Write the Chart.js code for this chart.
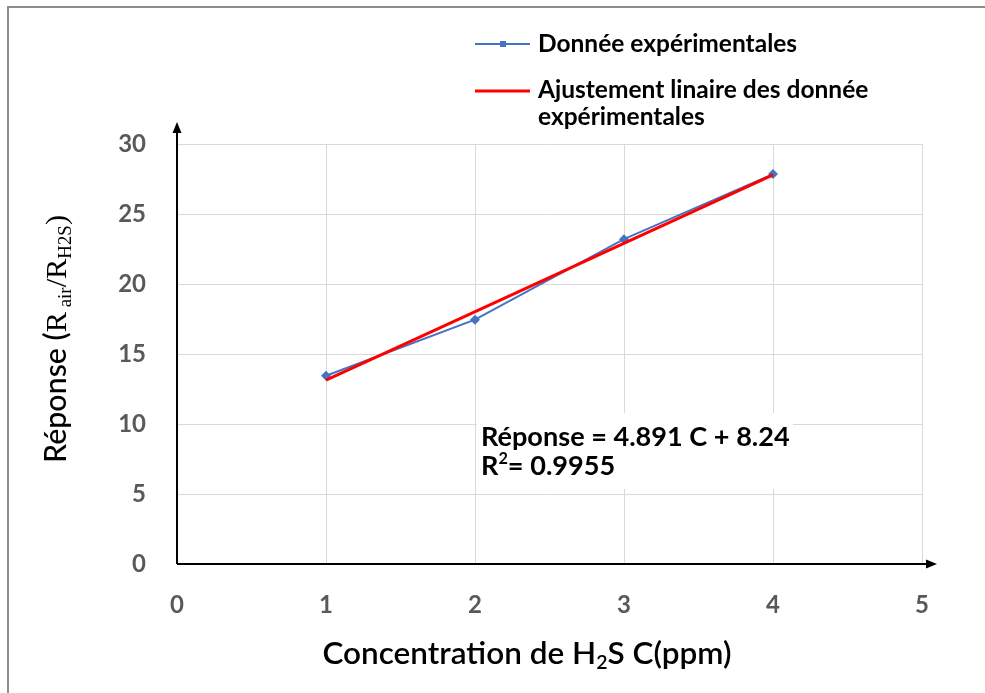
<!DOCTYPE html>
<html>
<head>
<meta charset="utf-8">
<script src="https://cdn.jsdelivr.net/npm/chart.js@4"></script>
<style>
  html, body { margin: 0; padding: 0; background: #fff; }
  #wrap { position: relative; width: 985px; height: 693px; }
  #frame { position: absolute; left: 7px; top: 6px; right: 0; bottom: 0;
           border-top: 2px solid #8c8c8c; border-left: 2px solid #8c8c8c; pointer-events: none; }
</style>
</head>
<body>
<div id="wrap">
  <canvas id="chart" width="985" height="693"></canvas>
  <div id="frame"></div>
</div>
<script>
// valeurs
var concentrations = [1, 2, 3, 4];
var responses = [13.45, 17.45, 23.2, 27.85];
var fitConc = [1, 4];
var fitResp = [13.13, 27.80];
var xMin = 0, xMax = 5, xStep = 1;
var yMin = 0, yMax = 30, yStep = 5;

var legendLabels = ['Donnée expérimentales', ['Ajustement linaire des donnée', 'expérimentales']];
var equationText = 'Réponse = 4.891 C + 8.24';
var r2Text = '0.9955';

var BLUE = '#4472C4';
var RED = '#FF0000';

function fitFont(ctx, text, weight, family, width) {
    ctx.font = weight + ' 100px ' + family;
    var w = ctx.measureText(text).width;
    return weight + ' ' + (100 * width / w).toFixed(1) + 'px ' + family;
}

var decorPlugin = {
    id: 'decor',
    beforeDatasetsDraw: function(chart) {
        var ctx = chart.ctx;
        // boite blanche de l'equation
        ctx.save();
        ctx.fillStyle = '#fff';
        ctx.fillRect(477, 413, 316, 76);
        ctx.restore();
    },
    afterDraw: function(chart) {
        var ctx = chart.ctx;
        var x0 = chart.scales.x.getPixelForValue(0);
        var y0 = chart.scales.y.getPixelForValue(0);
        ctx.save();

        // axes avec fleches
        ctx.strokeStyle = '#000';
        ctx.fillStyle = '#000';
        ctx.lineWidth = 2;
        ctx.beginPath();
        ctx.moveTo(x0, y0);
        ctx.lineTo(x0, 130);
        ctx.moveTo(x0, y0);
        ctx.lineTo(930, y0);
        ctx.stroke();
        ctx.beginPath();
        ctx.moveTo(x0, 122);
        ctx.lineTo(x0 - 4.5, 133);
        ctx.lineTo(x0 + 4.5, 133);
        ctx.closePath();
        ctx.fill();
        ctx.beginPath();
        ctx.moveTo(937, y0);
        ctx.lineTo(926, y0 - 4.5);
        ctx.lineTo(926, y0 + 4.5);
        ctx.closePath();
        ctx.fill();

        // legende
        ctx.lineWidth = 2;
        ctx.strokeStyle = BLUE;
        ctx.beginPath();
        ctx.moveTo(475, 44);
        ctx.lineTo(530, 44);
        ctx.stroke();
        ctx.fillStyle = BLUE;
        ctx.fillRect(500, 41, 6, 6);
        ctx.lineWidth = 3;
        ctx.strokeStyle = RED;
        ctx.beginPath();
        ctx.moveTo(475, 91);
        ctx.lineTo(530, 91);
        ctx.stroke();

        ctx.fillStyle = '#000';
        ctx.textAlign = 'left';
        ctx.textBaseline = 'middle';
        ctx.font = fitFont(ctx, legendLabels[0], 'bold', 'Lato', 259);
        ctx.fillText(legendLabels[0], 538, 44);
        ctx.fillText(legendLabels[1][0], 538, 90);
        ctx.fillText(legendLabels[1][1], 538, 117);

        // equation
        ctx.font = fitFont(ctx, equationText, 'bold', 'Lato', 309);
        ctx.fillText(equationText, 481, 437);
        var eqFont = ctx.font;
        ctx.fillText('R', 481, 466);
        var wR = ctx.measureText('R').width;
        ctx.font = eqFont.replace(/[\d.]+px/, function(m) { return (parseFloat(m) * 0.6).toFixed(1) + 'px'; });
        ctx.fillText('2', 481 + wR, 459);
        var w2 = ctx.measureText('2').width;
        ctx.font = eqFont;
        ctx.fillText('= ' + r2Text, 481 + wR + w2, 466);

        // titre axe x
        var xParts = [
            { t: 'Concentration de H', sub: false },
            { t: '2', sub: true },
            { t: 'S C(ppm)', sub: false }
        ];
        drawParts(ctx, xParts, 527, 656, 'Lato', 24, 409, '600');

        // titre axe y
        ctx.save();
        ctx.translate(58, 339);
        ctx.rotate(-Math.PI / 2);
        var yParts = [
            { t: 'Réponse (', sub: false, fam: 'Lato' },
            { t: 'R', sub: false, fam: 'Liberation Serif' },
            { t: ' air', sub: true, fam: 'Liberation Serif' },
            { t: '/R', sub: false, fam: 'Liberation Serif' },
            { t: 'H2S', sub: true, fam: 'Liberation Serif' },
            { t: ')', sub: false, fam: 'Liberation Serif' }
        ];
        drawParts(ctx, yParts, 0, 0, 'Lato', 25, 248, '500');
        ctx.restore();

        ctx.restore();
    }
};

function drawParts(ctx, parts, cx, cy, family, size, targetW, weight) {
    var total = 0;
    var i, p, f, s;
    for (i = 0; i < parts.length; i++) {
        p = parts[i];
        f = p.fam || family;
        s = p.sub ? size * 0.62 : size;
        ctx.font = weight + ' ' + s + 'px ' + f;
        p.w = ctx.measureText(p.t).width;
        total += p.w;
    }
    var k = targetW / total;
    var x = cx - targetW / 2;
    ctx.textAlign = 'left';
    ctx.textBaseline = 'alphabetic';
    ctx.fillStyle = '#000';
    for (i = 0; i < parts.length; i++) {
        p = parts[i];
        f = p.fam || family;
        s = (p.sub ? size * 0.62 : size) * k;
        ctx.font = weight + ' ' + s.toFixed(1) + 'px ' + f;
        ctx.fillText(p.t, x, cy + 8 + (p.sub ? 5 : 0));
        x += p.w * k;
    }
}

var ctx = document.getElementById('chart').getContext('2d');
var chart = new Chart(ctx, {
    type: 'scatter',
    data: {
        datasets: [
            {
                label: 'Ajustement linaire des donnée expérimentales',
                data: fitConc.map(function(c, i) { return { x: c, y: fitResp[i] }; }),
                showLine: true,
                borderColor: RED,
                backgroundColor: RED,
                borderWidth: 3,
                pointRadius: 0,
                order: 0
            },
            {
                label: 'Donnée expérimentales',
                data: concentrations.map(function(c, i) { return { x: c, y: responses[i] }; }),
                showLine: true,
                borderColor: BLUE,
                backgroundColor: BLUE,
                borderWidth: 2,
                pointStyle: 'rectRot',
                pointRadius: 5,
                pointBorderWidth: 0,
                order: 1
            }
        ]
    },
    options: {
        responsive: false,
        animation: false,
        layout: { padding: { top: 144, right: 63, left: 0, bottom: 0 } },
        plugins: {
            legend: { display: false },
            tooltip: { enabled: false }
        },
        scales: {
            x: {
                type: 'linear',
                min: xMin,
                max: xMax,
                ticks: {
                    stepSize: xStep,
                    padding: 27,
                    color: '#595959',
                    font: { family: 'Lato', size: 24, weight: 'bold' }
                },
                grid: { color: '#d9d9d9', lineWidth: 1, drawTicks: false },
                border: { display: false },
                afterFit: function(scale) { scale.height = 129; }
            },
            y: {
                min: yMin,
                max: yMax,
                ticks: {
                    stepSize: yStep,
                    padding: 31,
                    color: '#595959',
                    font: { family: 'Lato', size: 24, weight: 'bold' }
                },
                grid: { color: '#d9d9d9', lineWidth: 1, drawTicks: false },
                border: { display: false },
                afterFit: function(scale) { scale.width = 177; }
            }
        }
    },
    plugins: [decorPlugin]
});
</script>
</body>
</html>
